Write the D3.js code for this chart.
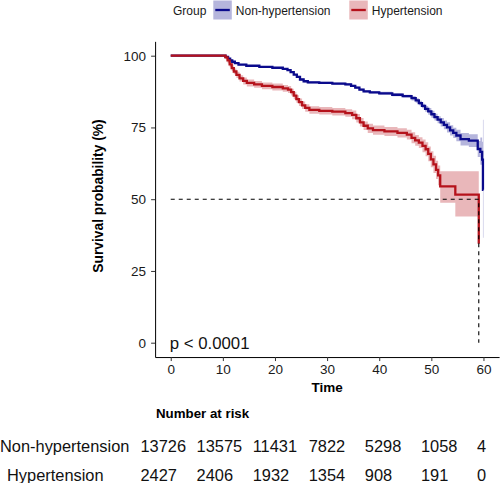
<!DOCTYPE html>
<html><head><meta charset="utf-8">
<script src="https://cdn.jsdelivr.net/npm/d3@7/dist/d3.min.js"></script>
<style>body{margin:0;background:#fff}svg{display:block}</style>
</head><body><svg id="c" width="500" height="483"></svg>
<script>
const groups = ["Non-hypertension", "Hypertension"];
const colors = ["#0A0A8C", "#B5121B"];

// Non-hypertension KM estimate (%) with 95% CI
const nhTime  = [0,10.5,11.0,11.4,11.8,12.3,13.0,14.5,17,19.5,21.5,22.4,23.0,23.6,24.2,24.8,25.5,26.3,28.5,31,33.5,34.6,35.4,36.2,37.0,38.2,40,42.5,44.5,46.2,47.0,47.6,48.2,48.8,49.4,50.0,50.6,51.2,51.8,52.4,53.0,53.6,54.2,54.8,55.6,57.2,58.9,59.4,59.75,59.9,60.0];
const nhSurv  = [100,99.6,99.0,98.4,97.9,97.4,96.9,96.5,96.1,95.8,95.4,95.0,94.3,93.4,92.6,91.7,91.1,90.7,90.5,90.3,90.0,89.5,88.9,88.2,87.6,87.2,86.9,86.4,85.9,85.2,84.4,83.5,82.5,81.5,80.6,79.6,78.6,77.7,76.8,75.9,75.0,74.0,73.1,72.2,70.9,70.4,67.5,66.5,63.8,53.3,53.3];
const nhLower = [100,99.4,98.8,98.1,97.6,97.1,96.6,96.2,95.8,95.5,95.1,94.7,94.0,93.1,92.2,91.3,90.7,90.3,90.1,89.9,89.6,89.1,88.5,87.8,87.2,86.8,86.4,85.9,85.4,84.4,83.6,82.7,81.7,80.5,79.4,78.4,77.4,76.5,75.3,74.4,73.2,72.2,71.3,70.2,68.7,68.2,64.7,62.0,58.0,36.6,36.6];
const nhUpper = [100,99.8,99.2,98.7,98.2,97.7,97.2,96.8,96.4,96.1,95.7,95.3,94.6,93.7,93.0,92.1,91.5,91.1,90.9,90.7,90.4,89.9,89.3,88.6,88.0,87.6,87.4,86.9,86.4,86.0,85.2,84.3,83.3,82.5,81.8,80.8,79.8,78.9,78.3,77.4,76.8,75.8,74.9,74.2,73.1,72.6,70.3,71.5,70.0,77.7,77.7];

// Hypertension KM estimate (%) with 95% CI
const hTime  = [0,10.5,10.9,11.3,11.7,12.1,12.6,13.2,13.9,14.6,16,17.5,19.5,21.5,22.5,23.1,23.6,24.1,24.6,25.2,25.8,26.6,28.5,31,33.5,34.8,35.6,36.3,37.0,37.8,38.8,41,43.5,45.3,46.2,46.9,47.6,48.3,48.9,49.4,49.9,50.4,50.9,51.3,51.7,54.6,59.1];
const hSurv  = [100,99.4,98.4,97.0,95.7,94.5,93.3,92.1,91.2,90.5,90.0,89.5,89.1,88.6,88.2,87.3,86.1,84.9,83.8,82.7,81.8,81.1,80.8,80.5,80.0,79.4,78.2,76.8,75.6,74.7,74.1,73.6,73.1,72.5,71.4,70.5,69.7,68.6,67.4,65.8,63.9,62.1,60.2,58.3,54.5,51.6,34.5];
const hLower = [100,98.8,97.4,96.0,94.7,93.5,92.2,91.0,90.0,89.3,88.8,88.3,87.9,87.4,87.0,86.1,84.8,83.6,82.5,81.4,80.5,79.8,79.5,79.2,78.7,77.9,76.7,75.3,74.1,73.1,72.5,72.0,71.5,70.8,69.5,68.6,67.8,66.4,65.0,63.2,61.1,59.1,57.0,54.9,48.8,44.0,20.0];
const hUpper = [100,100,99.4,98.0,96.7,95.5,94.4,93.2,92.4,91.7,91.2,90.7,90.3,89.8,89.4,88.5,87.4,86.2,85.1,84.0,83.1,82.4,82.1,81.8,81.3,80.9,79.7,78.3,77.1,76.3,75.7,75.2,74.7,74.2,73.3,72.4,71.6,70.8,69.8,68.4,66.7,65.1,63.4,61.7,59.7,59.7,49.0];

// Number at risk
const riskTimes = [0,10,20,30,40,50,60];
const nhRisk = [13726,13575,11431,7822,5298,1058,4];
const hRisk  = [2427,2406,1932,1354,908,191,0];

const xTicks = [0,10,20,30,40,50,60];
const yTicks = [0,25,50,75,100];
const pLabel = "p < 0.0001";
const FONT = "'Liberation Sans', Arial, Helvetica, sans-serif";

const svg = d3.select("#c").style("font-family", FONT);

const x = d3.scaleLinear().domain([-3, 63]).range([155.1, 499.1]);
const y = d3.scaleLinear().domain([-5, 105]).range([357.05, 41.35]);

function series(t, s, lo, hi) {
  return t.map((tt, i) => ({t: tt, s: s[i], lo: lo[i], hi: hi[i]}));
}
const data = [series(nhTime, nhSurv, nhLower, nhUpper), series(hTime, hSurv, hLower, hUpper)];

const area = d3.area().curve(d3.curveStepAfter).x(d => x(d.t)).y0(d => y(d.lo)).y1(d => y(d.hi));
const line = d3.line().curve(d3.curveStepAfter).x(d => x(d.t)).y(d => y(d.s));

const plot = svg.append("g");
data.forEach((d, i) => {
  plot.append("path").attr("d", area(d)).attr("fill", colors[i]).attr("fill-opacity", 0.3).attr("stroke", "none");
});
data.forEach((d, i) => {
  plot.append("path").attr("d", line(d)).attr("fill", "none").attr("stroke", colors[i])
    .attr("stroke-width", 2.3).attr("stroke-linejoin", "miter");
});

// Median survival line (hypertension)
const med = data[1].find(d => d.s <= 50);
if (med) {
  plot.append("path")
    .attr("d", d3.line()([[x(0), y(50)], [x(med.t), y(50)], [x(med.t), y(0)]]))
    .attr("fill", "none").attr("stroke", "#000").attr("stroke-width", 1.1).attr("stroke-dasharray", "4,4");
}

// Axes
const xAxis = svg.append("g").attr("transform", `translate(0,${y.range()[0]})`)
  .call(d3.axisBottom(x).tickValues(xTicks).tickSize(4).tickSizeOuter(0).tickPadding(3));
const yAxis = svg.append("g").attr("transform", `translate(${x.range()[0]},0)`)
  .call(d3.axisLeft(y).tickValues(yTicks).tickSize(4).tickSizeOuter(0).tickPadding(5));
[xAxis, yAxis].forEach(a => {
  a.selectAll("text").attr("font-size", 13.5).attr("fill", "#1a1a1a").attr("font-family", FONT);
  a.selectAll("line").attr("stroke", "#333").attr("stroke-width", 1);
  a.select(".domain").attr("stroke", "#000").attr("stroke-width", 1);
});

svg.append("text").attr("x", (x.range()[0] + x.range()[1]) / 2).attr("y", 392)
  .attr("text-anchor", "middle").attr("font-weight", "bold").attr("font-size", 13.5).text("Time");
svg.append("text").attr("transform", "translate(103,196) rotate(-90)")
  .attr("text-anchor", "middle").attr("font-weight", "bold").attr("font-size", 13.8).text("Survival probability (%)");

svg.append("text").attr("x", x(0) - 1).attr("y", 349).attr("font-size", 16.8).attr("fill", "#111").text(pLabel);

// Legend
const lg = svg.append("g");
lg.append("text").attr("x", 173).attr("y", 14.5).attr("font-size", 12).attr("fill", "#1a1a1a").text("Group");
const keyX = [213.3, 349.3];
groups.forEach((g, i) => {
  lg.append("rect").attr("x", keyX[i]).attr("y", 0.5).attr("width", 18.5).attr("height", 19)
    .attr("fill", colors[i]).attr("fill-opacity", 0.3);
  lg.append("line").attr("x1", keyX[i] + 2).attr("x2", keyX[i] + 16.5).attr("y1", 10).attr("y2", 10)
    .attr("stroke", colors[i]).attr("stroke-width", 2.3);
  lg.append("text").attr("x", keyX[i] + 22.5).attr("y", 14.5).attr("font-size", 12).attr("fill", "#1a1a1a").text(g);
});

// Risk table
const xr = d3.scaleLinear().domain([0, 60]).range([140.5, 477]);
svg.append("text").attr("x", 156).attr("y", 418).attr("font-weight", "bold").attr("font-size", 13.3).text("Number at risk");
const rowY = [451.5, 481];
const labelX = [0, 7];
[nhRisk, hRisk].forEach((r, i) => {
  svg.append("text").attr("x", labelX[i]).attr("y", rowY[i]).attr("font-size", 16.4).attr("fill", "#111").text(groups[i]);
  svg.append("g").selectAll("text").data(r).join("text")
    .attr("x", (d, j) => xr(riskTimes[j])).attr("y", rowY[i])
    .attr("font-size", 16.4).attr("fill", "#111").text(d => d);
});
</script></body></html>
